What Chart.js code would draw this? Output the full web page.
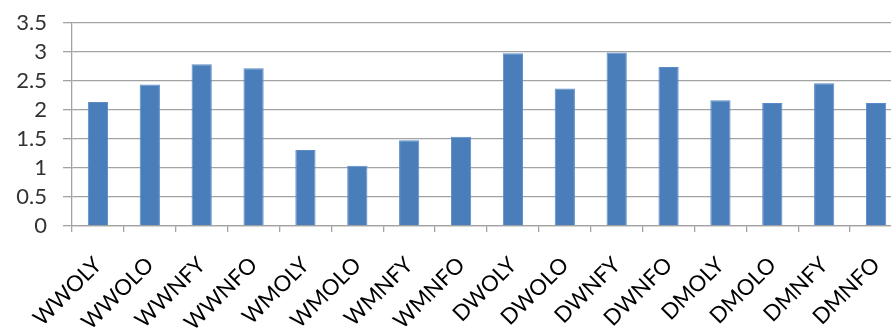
<!DOCTYPE html>
<html>
<head>
<meta charset="utf-8">
<script src="https://cdn.jsdelivr.net/npm/chart.js@4"></script>
<style>
  html, body { margin: 0; padding: 0; background: #fff; overflow: hidden; }
  #wrap { width: 902px; height: 334px; }
</style>
</head>
<body>
<div id="wrap"><canvas id="chart"></canvas></div>
<script>
const labels = ['WWOLY', 'WWOLO', 'WWNFY', 'WWNFO', 'WMOLY', 'WMOLO', 'WMNFY', 'WMNFO',
                'DWOLY', 'DWOLO', 'DWNFY', 'DWNFO', 'DMOLY', 'DMOLO', 'DMNFY', 'DMNFO'];
const values = [2.14, 2.44, 2.79, 2.72, 1.31, 1.04, 1.48, 1.54,
                2.98, 2.37, 2.99, 2.74, 2.17, 2.12, 2.46, 2.12];
const yTicks = [0, 0.5, 1, 1.5, 2, 2.5, 3, 3.5];

const gridColor = '#a3a3a3';

new Chart(document.getElementById('chart'), {
    type: 'bar',
    data: {
        labels: labels,
        datasets: [{
            data: values,
            backgroundColor: '#4a7ebb',
            borderColor: '#5b8cc6',
            borderWidth: 1,
            barPercentage: 0.39,
            categoryPercentage: 1
        }]
    },
    options: {
        responsive: true,
        maintainAspectRatio: false,
        animation: false,
        layout: { padding: { top: 23, right: 0, left: 0, bottom: 0 } },
        plugins: {
            legend: { display: false },
            tooltip: { enabled: false }
        },
        scales: {
            x: {
                grid: { display: true, drawOnChartArea: false, offset: true, tickLength: 6, color: gridColor, lineWidth: 1.3 },
                border: { color: gridColor, width: 1.3 },
                ticks: {
                    color: '#000',
                    font: { family: 'Lato', size: 22 },
                    minRotation: 45,
                    maxRotation: 45,
                    autoSkip: false,
                    padding: 20
                },
                afterFit: function(scale) {
                    scale.height = 108;
                    scale.paddingLeft = 0;
                    scale.paddingRight = 0;
                }
            },
            y: {
                min: 0,
                max: 3.5,
                afterBuildTicks: function(scale) {
                    scale.ticks = yTicks.map(v => ({ value: v }));
                },
                grid: { color: gridColor, lineWidth: 1.3, tickLength: 9 },
                border: { color: gridColor, width: 1.3 },
                ticks: {
                    color: '#333',
                    font: { family: 'Lato', size: 22 },
                    padding: 16,
                    autoSkip: false,
                    callback: function(v) { return String(v); }
                },
                afterFit: function(scale) {
                    scale.width = 72;
                    scale.paddingTop = 0;
                    scale.paddingBottom = 0;
                }
            }
        }
    }
});
</script>
</body>
</html>
